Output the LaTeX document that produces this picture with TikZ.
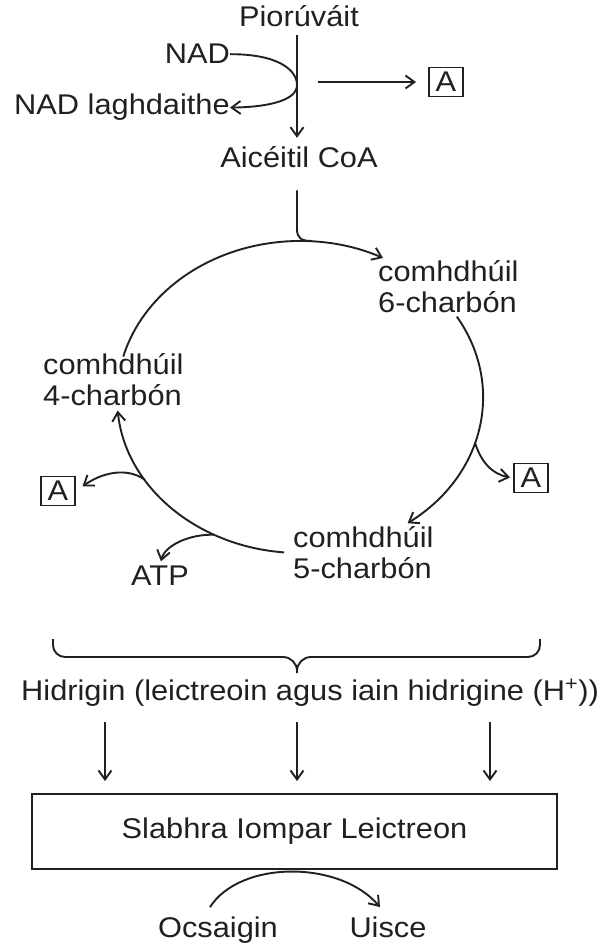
\documentclass[tikz,border=0pt]{standalone}
\usepackage{fontspec}
\setmainfont{Liberation Sans}[FakeStretch=1.08]
\usetikzlibrary{arrows.meta}
\definecolor{ink}{RGB}{35,31,32}
\begin{document}
\begin{tikzpicture}[x=1pt,y=1pt,
  every node/.style={font=\fontsize{28.5}{31}\selectfont, inner sep=0pt, text=ink},
  ln/.style={line width=1.9pt, draw=ink},
  arr/.style={ln, -{Straight Barb[length=9pt,width=13pt]}},
  abox/.style={draw=ink, line width=1.9pt, minimum width=34pt, minimum height=29pt},
  lbl/.style={anchor=base west, align=left}]
\useasboundingbox (0,0) rectangle (610,-947);
% top
\node[anchor=base] (pyr) at (299,-27) {Piorúváit};
\node[anchor=base] (acoa) at (299,-167) {Aicéitil CoA};
\coordinate (v1) at (297,0);
\draw[arr] ([yshift=-8pt]pyr.south -| v1) -- ([yshift=8pt]acoa.north -| v1);
\node[anchor=base east] (nad) at (230,-64) {NAD};
\node[anchor=base east] (nadr) at (230,-115) {NAD laghdaithe};
\draw[arr] (nad.east) .. controls (278,-54) and (297,-70) .. (297,-85)
  .. controls (297,-100) and (270,-107) .. (nadr.east);
\node[abox] (a1) at (446,-82) {A};
\coordinate (a1s) at (318,-82);
\draw[arr, shorten >=12pt] (a1s) -- (a1.west);
% cycle
\coordinate (cc) at (300,-397);
\draw[ln] ([yshift=-23pt]acoa.south -| v1) -- (297,-229) .. controls (297,-238) and (301,-241) .. (312,-241);
\draw[arr] (cc) ++(165:183 and 156) arc[start angle=165, end angle=63, x radius=183, y radius=156];
\draw[arr] (cc) ++(31:183 and 156) arc[start angle=31, end angle=-54, x radius=183, y radius=156];
\draw[arr] (cc) ++(265:183 and 156) arc[start angle=265, end angle=185, x radius=183, y radius=156];
\node[lbl] (c6) at (378,-312) {comhdhúil\\6-charbón};
\node[lbl] (c4) at (43,-405) {comhdhúil\\4-charbón};
\node[lbl] (c5) at (293,-578) {comhdhúil\\5-charbón};
\path (cc) ++(-17:183 and 156) coordinate (b1);
\path (cc) ++(212:183 and 156) coordinate (b2);
\path (cc) ++(242:183 and 156) coordinate (b3);
\node[abox] (a2) at (531,-478) {A};
\node[abox] (a3) at (58,-491) {A};
\node[anchor=base] (atp) at (160,-585) {ATP};
\draw[arr, shorten >=3pt] (b1) .. controls (481,-462) and (492,-474) .. (a2.west);
\draw[arr, shorten >=8pt] (b2) .. controls (125,-466) and (100,-474) .. (a3.east);
\draw[arr, shorten >=4pt] (b3) .. controls (190,-534) and (165,-545) .. (atp.north);
% brace
\draw[ln] (53,-639) -- (53,-645) arc[start angle=180,end angle=270,radius=12]
  -- (283,-657) arc[start angle=90,end angle=0,radius=14] -- (297,-673)
  -- (297,-671) arc[start angle=180,end angle=90,radius=14]
  -- (528,-657) arc[start angle=270,end angle=360,radius=12] -- (540,-639);
\node[anchor=base west] (hyd) at (21,-700) {Hidrigin (leictreoin agus iain hidrigine (H\textsuperscript{+}))};
\node[draw=ink, line width=1.9pt, minimum width=525pt, minimum height=75pt] (etc) at (294.5,-831.5) {Slabhra Iompar Leictreon};
\foreach \x in {105,297,490}
  \draw[arr, shorten >=12pt] ([yshift=-16pt]hyd.south -| \x,0) -- (etc.north -| \x,0);
\node[anchor=base] (ox) at (218,-937) {Ocsaigin};
\node[anchor=base] (ui) at (388,-937) {Uisce};
\draw[arr] ([xshift=-8pt,yshift=9pt]ox.north) .. controls (240,-860) and (340,-860) .. ([xshift=-8pt,yshift=9pt]ui.north);
\end{tikzpicture}
\end{document}
